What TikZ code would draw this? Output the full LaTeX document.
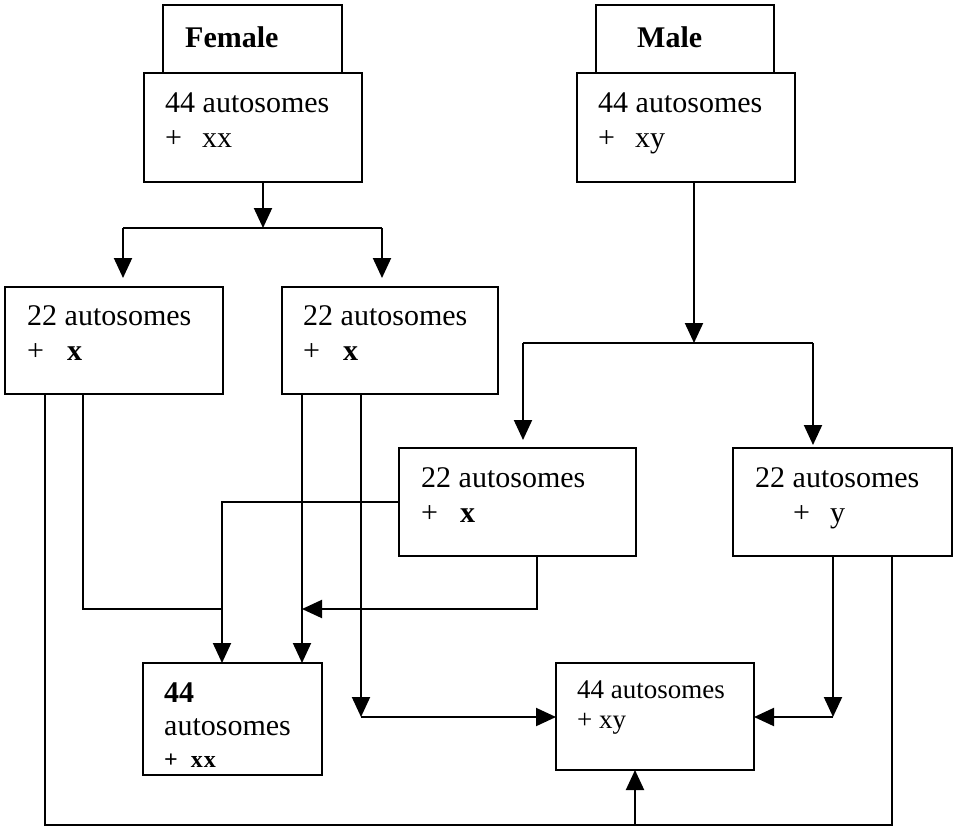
\documentclass[tikz,border=0pt]{standalone}
\usepackage{fontspec}
\setmainfont{Liberation Serif}
\usetikzlibrary{arrows.meta}
\begin{document}
\begin{tikzpicture}[x=1pt,y=-1pt,
  box/.style={draw, line width=2pt, inner sep=0pt, outer sep=0pt, minimum width=#1},
  wire/.style={line width=2pt},
  arr/.style={wire, -{Triangle[length=20pt,width=18pt]}},
  txt/.style={anchor=base west, inner sep=0pt, font=\fontsize{30}{35}\selectfont},
  bigtxt/.style={txt, font=\fontsize{30}{35}\selectfont\bfseries},
]
\useasboundingbox (0,0) rectangle (955,830);

% parents
\node[box=179pt, minimum height=68pt] (flab) at (252.5,39) {};
\node[box=218pt, minimum height=109pt] (fbox) at (253,127.5) {};
\node[box=178pt, minimum height=68pt] (mlab) at (685,39) {};
\node[box=218pt, minimum height=109pt] (mbox) at (686,127.5) {};

% gametes
\node[box=218pt, minimum height=107pt] (l22) at (114,340.5) {};
\node[box=216pt, minimum height=107pt] (c22) at (390,340.5) {};
\node[box=237pt, minimum height=108pt] (m22) at (517.5,502) {};
\node[box=219pt, minimum height=108pt] (r22) at (842.5,502) {};

% offspring
\node[box=179pt, minimum height=112pt] (xx) at (232.5,719) {};
\node[box=198pt, minimum height=107pt] (xy) at (655,716.5) {};

% labels
\node[bigtxt] (tFem) at (185,47) {Female};
\node[bigtxt] (tMal) at (637,47) {Male};
\node[txt] (tF1) at (165,112) {44 autosomes};
\node[txt] (tF2) at (165,147) {+\hspace{20pt}xx};
\node[txt] (tM1) at (598,112) {44 autosomes};
\node[txt] (tM2) at (598,147) {+\hspace{20pt}xy};
\node[txt] (tL1) at (27,325) {22 autosomes};
\node[txt] (tL2) at (27,360) {+\hspace{23pt}\textbf{x}};
\node[txt] (tC1) at (303,325) {22 autosomes};
\node[txt] (tC2) at (303,360) {+\hspace{23pt}\textbf{x}};
\node[txt] (tX1) at (421,487) {22 autosomes};
\node[txt] (tX2) at (421,522) {+\hspace{22pt}\textbf{x}};
\node[txt] (tY1) at (755,487) {22 autosomes};
\node[txt] (tY2) at (793,522) {+\hspace{20pt}y};
\node[txt, font=\fontsize{30}{35}\selectfont\bfseries] (tA1) at (164,702) {44};
\node[txt] (tA2) at (164,735) {autosomes};
\node[txt, font=\fontsize{24}{28}\selectfont\bfseries] (tA3) at (164,767) {+\hspace{13pt}x\hspace{1pt}x};
\node[txt, font=\fontsize{27}{31}\selectfont] (tB1) at (577,698) {44 autosomes};
\node[txt, font=\fontsize{27}{31}\selectfont] (tB2) at (577,728) {+ xy};

% junction points
\coordinate (fsp) at (263,228);
\coordinate (fL) at (123,228);
\coordinate (fR) at (382,228);
\coordinate (msp) at (694,343);
\coordinate (mL) at (523,343);
\coordinate (mR) at (813,343);
\coordinate (bL) at (45,825);
\coordinate (bR) at (892,825);
\coordinate (bUp) at (635,825);
\coordinate (lx) at (83,0);
\coordinate (jA) at (222,502);
\coordinate (jB) at (222,609);
\coordinate (cA) at (302,0);
\coordinate (kL) at (361,717);
\coordinate (kR) at (833,717);
\coordinate (mb) at (537,609);

% female split
\draw[arr] (fbox.south -| fsp) -- (fsp);
\draw[wire] (fL) -- (fR);
\draw[arr, shorten >=9pt] (fL) -- (fL |- l22.north);
\draw[arr, shorten >=9pt] (fR) -- (fR |- c22.north);

% male split
\draw[arr] (mbox.south -| msp) -- (msp);
\draw[wire] (mL) -- (mR);
\draw[arr, shorten >=8pt] (mL) -- (mL |- m22.north);
\draw[arr, shorten >=3pt] (mR) -- (mR |- r22.north);

% outer loop to the xy offspring
\draw[wire] (l22.south -| bL) -- (bL) -- (bR) -- (r22.south -| bR);
\draw[arr] (bUp) -- (xy.south -| bUp);

% into the xx offspring
\draw[arr] (m22.west) -- (jA) -- (jA |- xx.north);
\draw[wire] (l22.south -| lx) |- (jB);
\draw[arr] (c22.south -| cA) -- (cA |- xx.north);
\draw[arr] (m22.south -| mb) |- (cA |- mb);

% into the xy offspring
\draw[arr] (c22.south -| kL) -- (kL);
\draw[arr] (kL) -- (xy.west |- kL);
\draw[arr] (r22.south -| kR) -- (kR);
\draw[arr] (kR) -- (xy.east |- kR);
\end{tikzpicture}
\end{document}
